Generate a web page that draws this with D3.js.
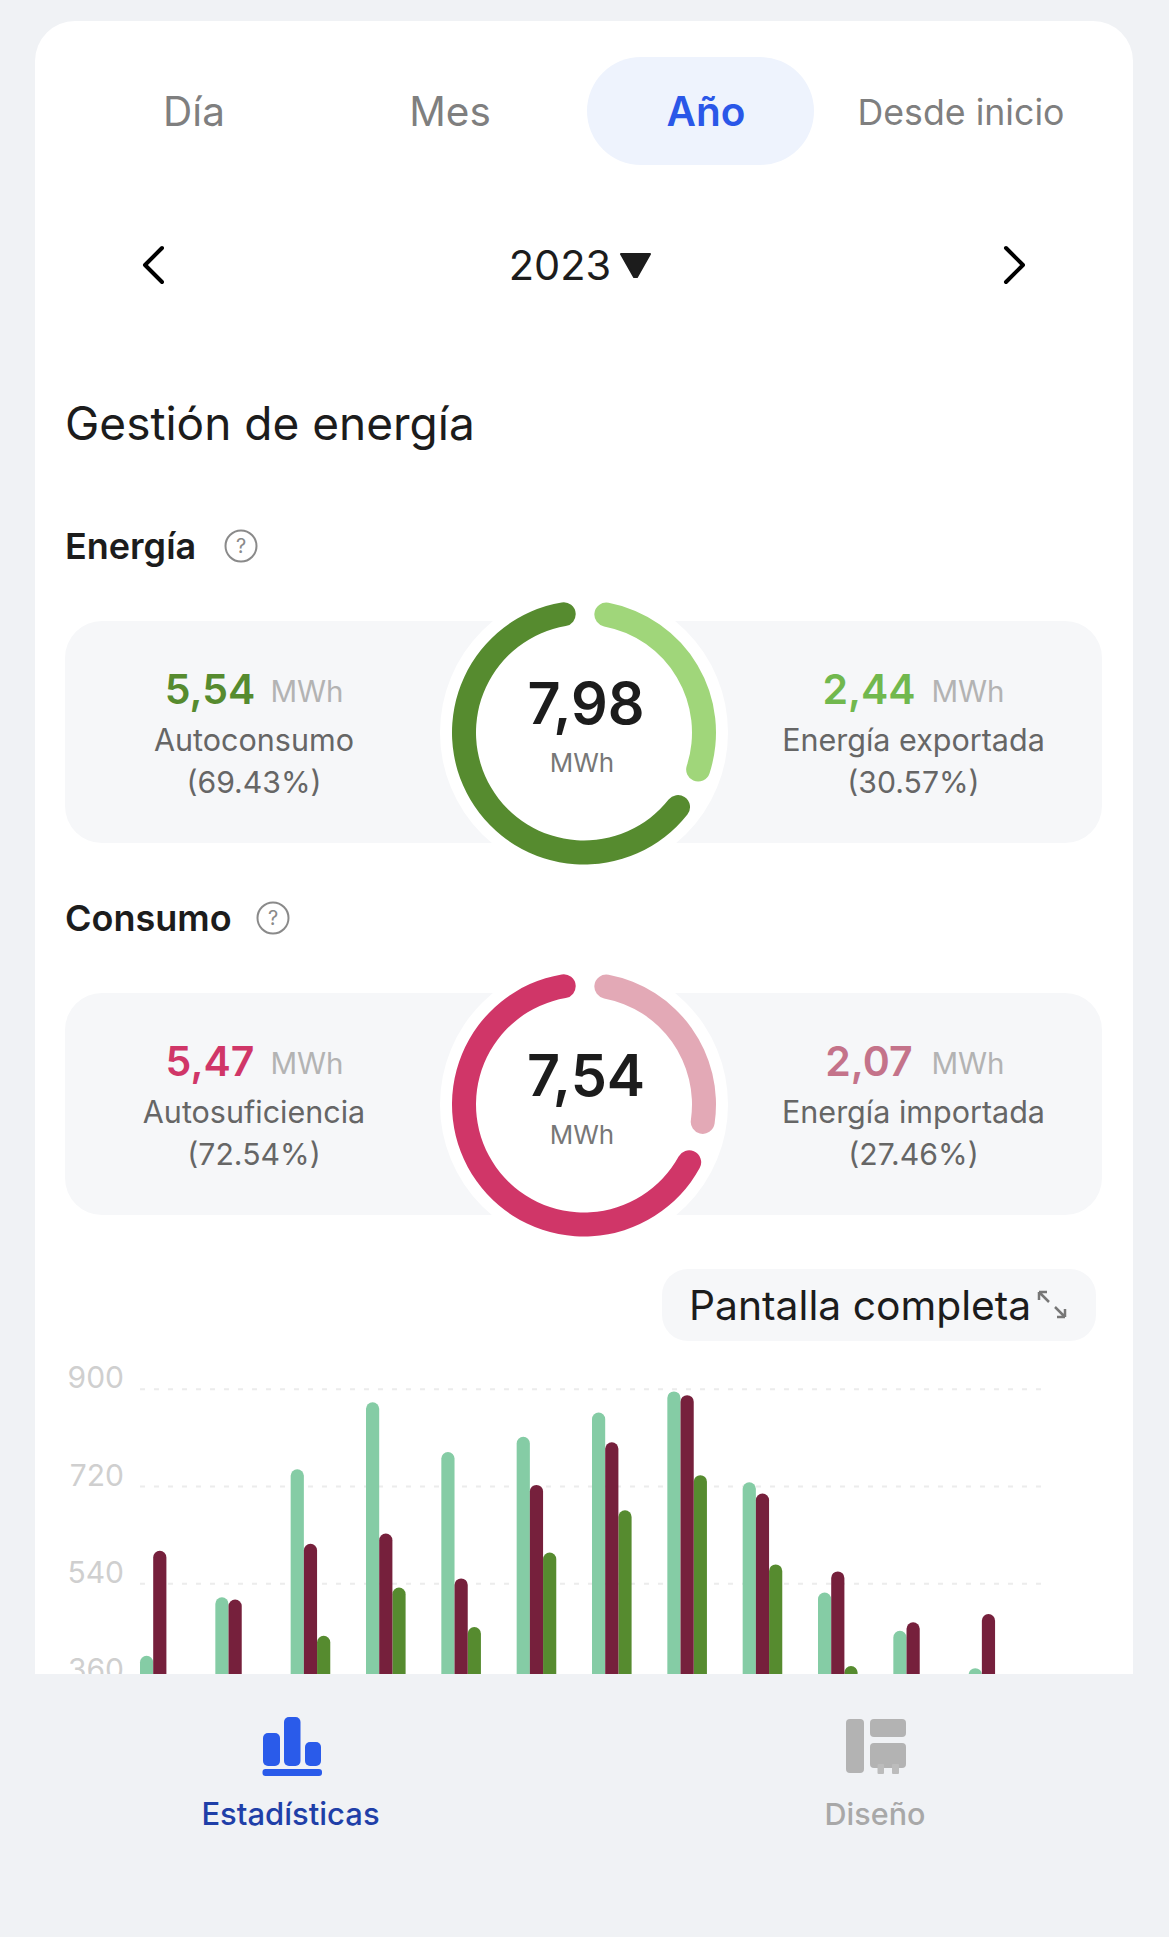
<!DOCTYPE html>
<html>
<head>
<meta charset="utf-8">
<script src="https://cdn.jsdelivr.net/npm/d3@7"></script>
<style>
html, body { margin: 0; padding: 0; background: #f0f2f5; }
svg { display: block; }
text { font-family: Inter, Roboto, sans-serif; }
</style>
</head>
<body>
<svg id="app" width="1169" height="1937"></svg>
<script>
// values
var months = ["Ene", "Feb", "Mar", "Abr", "May", "Jun", "Jul", "Ago", "Sep", "Oct", "Nov", "Dic"];
var generated = [406, 514, 751, 875, 783, 811, 856, 895, 727, 523, 452, 383];
var consumed = [600, 510, 613, 632, 549, 722, 801, 888, 706, 562, 468, 483];
var selfUsed = [null, null, 443, 532, 459, 597, 675, 740, 575, 387, null, null];
var yTicks = [360, 540, 720, 900];
var tabs = ["Día", "Mes", "Año", "Desde inicio"];

// ring spans in degrees, as they are drawn in the app (light part, dark part)
var energyRing = [109, 234];
var consumoRing = [99.5, 244];

var svg = d3.select("#app");

var addText = function(x, y, str, size, color, weight, anchor)
{
    return svg.append("text")
        .attr("x", x)
        .attr("y", y)
        .attr("font-size", size)
        .attr("fill", color)
        .attr("font-weight", weight || 400)
        .attr("text-anchor", anchor || "middle")
        .text(str);
}

// card
svg.append("path")
    .attr("d", "M35 1674V61a40 40 0 0 1 40-40H1093a40 40 0 0 1 40 40V1674Z")
    .attr("fill", "#ffffff");

// tabs
svg.append("rect")
    .attr("x", 587).attr("y", 57)
    .attr("width", 227).attr("height", 108)
    .attr("rx", 54)
    .attr("fill", "#eef3fd");

var tabX = d3.scaleOrdinal().domain(tabs).range([194, 450, 706, 961]);
var tabY = d3.scaleOrdinal().domain(tabs).range([126, 126, 126, 124.5]);
var tabSize = d3.scaleOrdinal().domain(tabs).range([40.5, 40.5, 40.5, 35.7]);
tabs.forEach(function(t)
{
    var on = t == "Año";
    addText(tabX(t), tabY(t), t, tabSize(t), on ? "#2a57e8" : "#7f7f7f", on ? 600 : 400);
});

// year picker
addText(560, 280, "2023", 41.5, "#1c1c1c");
svg.append("path")
    .attr("d", "M621 254H650L637 277H634Z")
    .attr("fill", "#1c1c1c")
    .attr("stroke", "#1c1c1c")
    .attr("stroke-width", 2)
    .attr("stroke-linejoin", "round");
svg.append("path")
    .attr("d", "M162 248L145 265L162 282M1006 248L1023 265L1006 282")
    .attr("fill", "none")
    .attr("stroke", "#000000")
    .attr("stroke-width", 4)
    .attr("stroke-linecap", "round")
    .attr("stroke-linejoin", "round");

addText(65, 440, "Gestión de energía", 46, "#1c1c1c", 400, "start");

var helpIcon = function(x, y)
{
    svg.append("circle")
        .attr("cx", x).attr("cy", y).attr("r", 15.5)
        .attr("fill", "none")
        .attr("stroke", "#8a8a8a")
        .attr("stroke-width", 2);
    addText(x, y + 7, "?", 20, "#8a8a8a");
}

var arc = d3.arc().innerRadius(108).outerRadius(132).cornerRadius(12);
var pad = 9 * Math.PI / 180;
var pie = d3.pie().sort(null).startAngle(0.5 * Math.PI / 180)
    .endAngle(2 * Math.PI + 0.5 * Math.PI / 180).padAngle(pad);

var drawPanel = function(o)
{
    var cy = o.top + 111.5;

    svg.append("rect")
        .attr("x", 65).attr("y", o.top)
        .attr("width", 1037).attr("height", 222)
        .attr("rx", 37)
        .attr("fill", "#f6f7f9");
    svg.append("circle")
        .attr("cx", 584).attr("cy", cy).attr("r", 144)
        .attr("fill", "#ffffff");

    svg.append("g")
        .attr("transform", "translate(584," + cy + ")")
        .selectAll("path")
        .data(pie(o.ring))
        .enter()
        .append("path")
        .attr("d", function(d)
        {
            return arc({startAngle: d.startAngle + pad / 2, endAngle: d.endAngle - pad / 2});
        })
        .attr("fill", function(d, i) { return o.colors[i]; });

    addText(586, o.top + 103, o.total, 57.5, "#1c1c1c", 600);
    addText(582, o.top + 151, "MWh", 26, "#777777");

    addText(210, o.top + 83, o.left[0], 41, o.colors[1], 600);
    addText(307, o.top + 81, "MWh", 29.5, "#b3b3b3");
    addText(254, o.top + 130, o.left[1], 30.5, "#666666");
    addText(254, o.top + 172, o.left[2], 30.2, "#666666");

    addText(869, o.top + 83, o.right[0], 41, o.rightColor, 600);
    addText(968, o.top + 81, "MWh", 29.5, "#b3b3b3");
    addText(913.5, o.top + 130, o.right[1], 30.5, "#666666");
    addText(913.5, o.top + 172, o.right[2], 30.2, "#666666");
}

addText(65, 559, "Energía", 36, "#1c1c1c", 600, "start");
helpIcon(241, 546);
drawPanel({
    top: 621,
    ring: energyRing,
    colors: ["#a0d67a", "#568b2f"],
    rightColor: "#71b84e",
    total: "7,98",
    left: ["5,54", "Autoconsumo", "(69.43%)"],
    right: ["2,44", "Energía exportada", "(30.57%)"]
});

addText(65, 931, "Consumo", 36, "#1c1c1c", 600, "start");
helpIcon(273, 918);
drawPanel({
    top: 993,
    ring: consumoRing,
    colors: ["#e3a9b6", "#d03668"],
    rightColor: "#c4738a",
    total: "7,54",
    left: ["5,47", "Autosuficiencia", "(72.54%)"],
    right: ["2,07", "Energía importada", "(27.46%)"]
});

// full screen button
svg.append("rect")
    .attr("x", 662).attr("y", 1269)
    .attr("width", 434).attr("height", 72)
    .attr("rx", 26)
    .attr("fill", "#f6f7f9");
addText(689, 1320, "Pantalla completa", 40.8, "#1c1c1c", 400, "start");
svg.append("path")
    .attr("d", "M1039 1292H1047M1039 1292V1300M1039 1292L1049 1302M1065 1317H1057M1065 1317V1309M1065 1317L1055 1307")
    .attr("fill", "none")
    .attr("stroke", "#777777")
    .attr("stroke-width", 2.5);

// chart
svg.append("clipPath")
    .attr("id", "chartClip")
    .append("rect")
    .attr("x", 35).attr("y", 1340)
    .attr("width", 1098).attr("height", 334);

var chart = svg.append("g").attr("clip-path", "url(#chartClip)");

var xScale = d3.scaleBand().domain(months).range([140, 1044]);
var yScale = d3.scaleLinear().domain([0, 900]).range([1875.2, 1388.7]);
var seriesX = d3.scaleBand().domain([0, 1, 2]).range([0, 39.6]);

var yAxis = d3.axisLeft(yScale)
    .tickValues(yTicks)
    .tickSize(-904)
    .tickPadding(16);

var axisG = chart.append("g")
    .attr("transform", "translate(140,0)")
    .call(yAxis);
axisG.select(".domain").remove();
axisG.selectAll("line")
    .attr("stroke", "#ececec")
    .attr("stroke-width", 2)
    .attr("stroke-dasharray", "5 9");
axisG.selectAll("text")
    .attr("font-size", 30)
    .attr("font-family", "Inter, Roboto, sans-serif")
    .attr("fill", "#cfcfcf")
    .attr("dy", 0)
    .attr("y", -1);

var drawBars = function(values, index, color)
{
    chart.append("g")
        .selectAll("rect")
        .data(months)
        .enter()
        .filter(function(d, i) { return values[i] != null; })
        .append("rect")
        .attr("x", function(d) { return xScale(d) + seriesX(index); })
        .attr("y", function(d) { return yScale(values[months.indexOf(d)]); })
        .attr("width", seriesX.bandwidth())
        .attr("height", function(d) { return yScale(0) - yScale(values[months.indexOf(d)]); })
        .attr("rx", 6.6)
        .attr("fill", color);
}

drawBars(generated, 0, "#85cca5");
drawBars(selfUsed, 2, "#568b2f");
drawBars(consumed, 1, "#76203c");

// bottom nav
svg.append("rect")
    .attr("x", 0).attr("y", 1674)
    .attr("width", 1169).attr("height", 263)
    .attr("fill", "#f0f2f5");

var navRect = function(x, y, w, h, r, color)
{
    svg.append("rect")
        .attr("x", x).attr("y", y)
        .attr("width", w).attr("height", h)
        .attr("rx", r)
        .attr("fill", color);
}

navRect(263, 1733, 17, 33, 5, "#2a5bea");
navRect(284, 1717, 16.5, 49, 5, "#2a5bea");
navRect(305, 1742, 16, 24, 5, "#2a5bea");
navRect(262.5, 1769, 59.5, 7, 3, "#2a5bea");
addText(290.5, 1825, "Estadísticas", 31, "#1f3fa8", 500);

navRect(846, 1719, 18, 54, 4, "#b3b3b3");
navRect(870, 1719, 36, 18, 4, "#b3b3b3");
navRect(870, 1743, 36, 25, 4, "#b3b3b3");
navRect(877.5, 1764, 6.5, 10, 1, "#bcbcbc");
navRect(892, 1764, 7, 10, 1, "#bcbcbc");
addText(875, 1825, "Diseño", 30.5, "#a8a8a8", 500);
</script>
</body>
</html>
